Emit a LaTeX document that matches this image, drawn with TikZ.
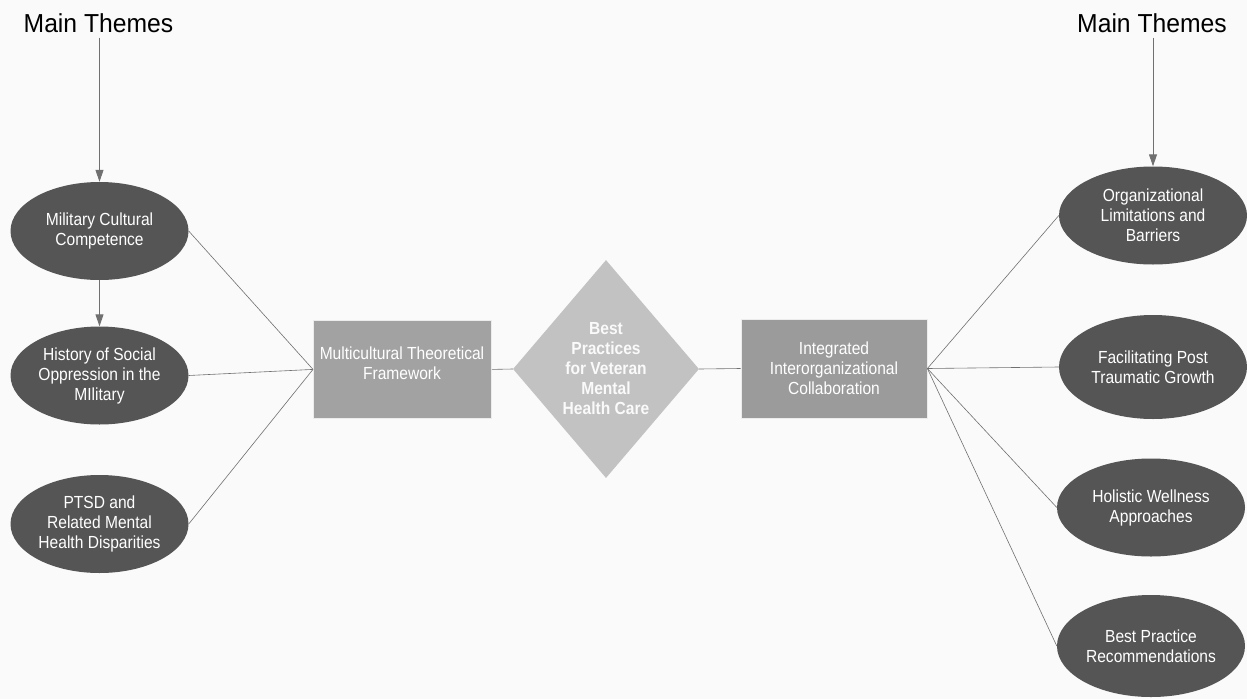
\documentclass[tikz,border=0pt]{standalone}
\usepackage{fontspec}
\setmainfont{Liberation Sans}
\newfontfamily\labelfont{Liberation Sans}[FakeStretch=0.89]
\newfontfamily\headfont{Liberation Sans}[FakeStretch=0.95]
\usetikzlibrary{shapes.geometric,arrows.meta}
\definecolor{bg}{HTML}{FAFAFA}
\definecolor{ovalfill}{HTML}{555555}
\definecolor{linegray}{HTML}{707070}
\definecolor{boxA}{HTML}{A2A2A2}
\definecolor{boxB}{HTML}{9B9B9B}
\definecolor{diafill}{HTML}{C2C2C2}
\tikzset{
  lbl/.style={font=\labelfont\fontsize{17.5}{20}\selectfont},
  theme/.style={ellipse, fill=ovalfill, text=white, minimum width=178pt, minimum height=98pt,
    inner sep=0pt, align=center, lbl},
  framebox/.style={rectangle, draw=white!85!gray, line width=0.8pt, text=white, inner sep=0pt,
    align=center, lbl},
  hub/.style={diamond, fill=diafill, text=white!96!gray, inner sep=0pt, minimum width=186pt,
    minimum height=218pt, align=center, font=\labelfont\bfseries\fontsize{17.5}{20}\selectfont},
  heading/.style={font=\headfont\fontsize{26}{30}\selectfont, text=black, inner sep=0pt},
  link/.style={draw=linegray, line width=0.6pt},
  flow/.style={draw=linegray, line width=1pt, -{Triangle[length=12pt,width=8pt]}}
}
\begin{document}
\begin{tikzpicture}[x=1pt,y=-1pt]
  \fill[bg] (0,0) rectangle (1247,699);
  \useasboundingbox (0,0) rectangle (1247,699);

  % headings
  \node[heading] (hl) at (98.5,23) {Main Themes};
  \node[heading] (hr) at (1152,23) {Main Themes};

  % left themes
  \node[theme] (l1) at (99.5,231) {Military Cultural\\Competence};
  \node[theme] (l2) at (99.5,375.5) {History of Social\\Oppression in the\\MIlitary};
  \node[theme] (l3) at (99.5,524) {PTSD and\\Related Mental\\Health Disparities};

  % central chain
  \node[framebox, fill=boxA, minimum width=178pt, minimum height=98pt, anchor=north west] (mtf) at (313,320) {};
  \node[text=white, align=center, lbl] (mtft) at (402,363) {Multicultural Theoretical\\Framework};
  \node[hub] (bp) at (606,369) {Best\\Practices\\for Veteran\\Mental\\Health Care};
  \node[framebox, fill=boxB, minimum width=186pt, minimum height=99pt] (iic) at (834,368.5) {Integrated\\Interorganizational\\Collaboration};

  % right themes
  \node[theme, minimum width=188pt] (r1) at (1153,215.5) {Organizational\\Limitations and\\Barriers};
  \node[theme, minimum width=188pt, minimum height=104pt] (r2) at (1153,367) {Facilitating Post\\Traumatic Growth};
  \node[theme, minimum width=188pt] (r3) at (1151,507.5) {Holistic Wellness\\Approaches};
  \node[theme, minimum width=188pt, minimum height=102pt] (r4) at (1151,646) {Best Practice\\Recommendations};

  % arrows
  \draw[flow] (hl.south -| l1.north) ++(0,5) coordinate (hla) -- (l1.north);
  \draw[flow] (l1.south) -- (l2.north);
  \draw[flow] (hr.south -| r1.north) ++(0,5) coordinate (hra) -- (r1.north);

  % connectors
  \draw[link] (l1.east) -- (mtf.west);
  \draw[link] (l2.east) -- (mtf.west);
  \draw[link] (l3.east) -- (mtf.west);
  \draw[link] (mtf.east) -- (bp.west);
  \draw[link] (bp.east) -- (iic.west);
  \draw[link] (iic.east) -- (r1.west);
  \draw[link] (iic.east) -- (r2.west);
  \draw[link] (iic.east) -- (r3.west);
  \draw[link] (iic.east) -- (r4.west);
\end{tikzpicture}
\end{document}
